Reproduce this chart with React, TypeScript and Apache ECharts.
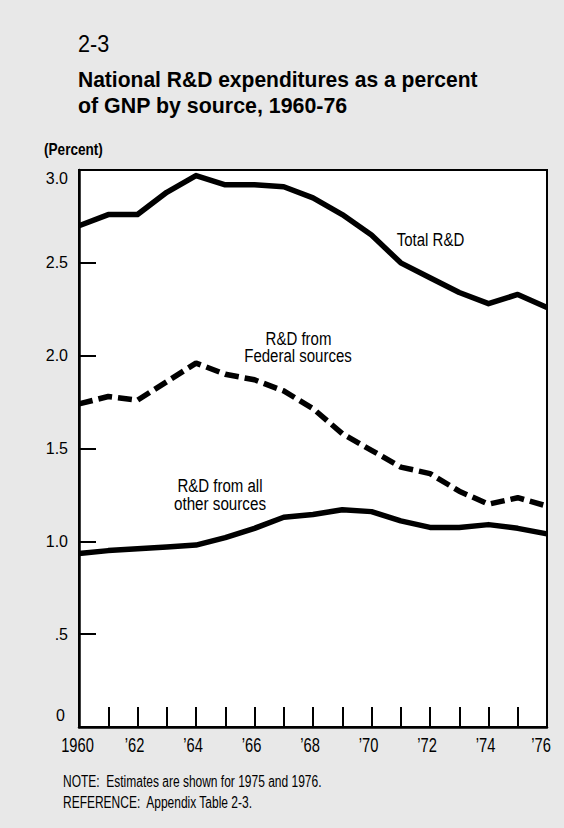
import React, { useEffect, useRef } from "react";
import * as echarts from "echarts";

const years = [1960, 1961, 1962, 1963, 1964, 1965, 1966, 1967, 1968, 1969, 1970, 1971, 1972, 1973, 1974, 1975, 1976];
const totalRD = [2.70, 2.76, 2.76, 2.88, 2.97, 2.92, 2.92, 2.91, 2.85, 2.76, 2.65, 2.50, 2.42, 2.34, 2.28, 2.33, 2.26];
const federalRD = [1.74, 1.78, 1.76, 1.86, 1.96, 1.90, 1.87, 1.81, 1.715, 1.58, 1.49, 1.40, 1.365, 1.27, 1.20, 1.235, 1.19];
const otherRD = [0.935, 0.95, 0.96, 0.97, 0.98, 1.02, 1.07, 1.13, 1.145, 1.17, 1.16, 1.11, 1.075, 1.075, 1.09, 1.07, 1.04];
const yTickLabels: Record<string, string> = { "0": "{b|0}", "0.5": ".5", "1": "1.0", "1.5": "1.5", "2": "2.0", "2.5": "2.5", "3": "{t|3.0}" };
const xTickYears = [1960, 1962, 1964, 1966, 1968, 1970, 1972, 1974, 1976];
const xTickLabels = ["1960", "\u201962", "\u201964", "\u201966", "\u201968", "\u201970", "\u201972", "\u201974", "\u201976"];

const LFONT = "'Liberation Sans', Arial, sans-serif";

export default function App() {
  const ref = useRef<HTMLDivElement>(null);
  useEffect(() => {
    document.body.style.margin = "0";
    const chart = echarts.init(ref.current!, null, { renderer: "svg" });
    const mk = (vals: number[]) => years.map((y, i) => [y, vals[i]]);
    const txt = (text: string, x: number, y: number, font: string, sx: number, align = "left") => ({
      type: "text", x, y, scaleX: sx,
      style: { text, font, fill: "#000", align, verticalAlign: "middle" },
    });
    chart.setOption({
      animation: false,
      backgroundColor: "#e8e8e8",
      grid: {
        left: 79, right: 17, top: 170, bottom: 101,
        show: true, backgroundColor: "#ffffff", borderColor: "#000", borderWidth: 2,
      },
      xAxis: {
        type: "value", min: 1960, max: 1976, interval: 1,
        axisLine: { show: true, lineStyle: { color: "#000", width: 2.5 } },
        axisTick: { show: true, inside: true, length: 20, lineStyle: { color: "#000", width: 2 } },
        splitLine: { show: false },
        axisLabel: { show: false },
      },
      yAxis: {
        type: "value", min: 0, max: 3, interval: 0.5,
        axisLine: { show: true, lineStyle: { color: "#000", width: 2.5 } },
        axisTick: { show: true, inside: true, length: 17, lineStyle: { color: "#000", width: 2 } },
        splitLine: { show: false },
        axisLabel: {
          color: "#000", fontFamily: LFONT, fontSize: 16, margin: 11,
          formatter: (v: number) => yTickLabels[String(v)] ?? String(v),
          rich: {
            t: { fontFamily: LFONT, fontSize: 16, color: "#000", padding: [16, 0, 0, 0] },
            b: { fontFamily: LFONT, fontSize: 16, color: "#000", padding: [0, 3, 24, 0] },
          },
        },
      },
      series: [
        { name: "Total R&D", type: "line", data: mk(totalRD), symbol: "none", lineStyle: { color: "#000", width: 5.5, join: "round" } },
        { name: "R&D from Federal sources", type: "line", data: mk(federalRD), symbol: "none", lineStyle: { color: "#000", width: 5.5, type: [14, 6], cap: "butt" } },
        { name: "R&D from all other sources", type: "line", data: mk(otherRD), symbol: "none", lineStyle: { color: "#000", width: 5.5, join: "round" } },
      ],
    });
    const xLabelTexts = xTickYears.map((yr, i) => {
      const [px, py] = chart.convertToPixel({ gridIndex: 0 }, [yr, 0]) as number[];
      const dx = yr === 1960 ? -1.5 : yr === 1976 ? -6 : -3;
      return txt(xTickLabels[i], px + dx, py + 18.5, `21px ${LFONT}`, 0.7, "center");
    });
    chart.setOption({
      graphic: [
        txt("2-3", 78, 43.5, `24px ${LFONT}`, 0.9),
        txt("National R&D expenditures as a percent", 78, 79, `bold 22.5px ${LFONT}`, 0.935),
        txt("of GNP by source, 1960-76", 78, 105.5, `bold 22.5px ${LFONT}`, 0.95),
        txt("(Percent)", 44, 149.5, `bold 16px ${LFONT}`, 0.85),
        txt("Total R&D", 430.5, 240, `19px ${LFONT}`, 0.79, "center"),
        txt("R&D from", 298.5, 338.5, `19px ${LFONT}`, 0.79, "center"),
        txt("Federal sources", 298, 355.5, `19px ${LFONT}`, 0.79, "center"),
        txt("R&D from all", 220, 486, `19px ${LFONT}`, 0.79, "center"),
        txt("other sources", 220, 503, `19px ${LFONT}`, 0.8, "center"),
        txt("NOTE:  Estimates are shown for 1975 and 1976.", 63, 781, `16px ${LFONT}`, 0.75),
        txt("REFERENCE:  Appendix Table 2-3.", 63, 802.5, `16px ${LFONT}`, 0.75),
        ...xLabelTexts,
      ],
    });
    return () => chart.dispose();
  }, []);
  return <div ref={ref} style={{ position: "absolute", left: 0, top: 0, width: 564, height: 828 }} />;
}
